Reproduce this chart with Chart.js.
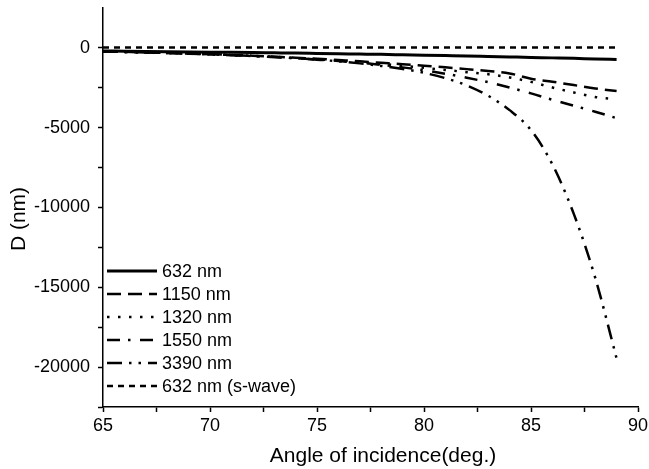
<!DOCTYPE html>
<html>
<head>
<meta charset="utf-8">
<script src="https://cdn.jsdelivr.net/npm/chart.js@4"></script>
<style>
  html, body { margin: 0; padding: 0; background: #fff; }
  #wrap { width: 649px; height: 469px; }
</style>
</head>
<body>
<div id="wrap"><canvas id="chart"></canvas></div>
<script>
// data
const angles = [65, 66, 67, 68, 69, 70, 71, 72, 73, 74, 75, 76, 77, 78, 79, 80, 81, 82, 83, 84, 85, 86, 87, 88, 89];
const d632 = [-190, -205, -220, -235, -250, -265, -280, -295, -310, -325, -345, -365, -385, -405, -430, -455, -480, -505, -535, -565, -595, -625, -655, -690, -720];
const d1150 = [-215, -245, -280, -315, -355, -395, -440, -490, -550, -610, -680, -760, -840, -930, -1020, -1120, -1220, -1330, -1450, -1600, -1930, -2120, -2330, -2540, -2700];
const d1320 = [-220, -250, -285, -320, -360, -400, -445, -500, -560, -630, -710, -800, -900, -1000, -1120, -1250, -1380, -1520, -1650, -1850, -2130, -2480, -2790, -3080, -3220];
const d1550 = [-220, -250, -285, -320, -360, -405, -450, -505, -570, -640, -720, -820, -930, -1060, -1220, -1400, -1620, -1870, -2150, -2480, -2850, -3250, -3620, -4000, -4400];
const d3390 = [-220, -250, -285, -320, -360, -405, -455, -510, -575, -650, -740, -840, -970, -1130, -1320, -1560, -1900, -2350, -3000, -3900, -5150, -7300, -10400, -14400, -19450];
const dS = [30, 30, 30, 30, 30, 30, 30, 30, 30, 30, 30, 30, 30, 30, 30, 30, 30, 30, 30, 30, 30, 30, 30, 30, 30];

const seriesNames = ['632 nm', '1150 nm', '1320 nm', '1550 nm', '3390 nm', '632 nm (s-wave)'];
const xTicks = [65, 67.5, 70, 72.5, 75, 77.5, 80, 82.5, 85, 87.5, 90];
const yTicks = [-22500, -20000, -17500, -15000, -12500, -10000, -7500, -5000, -2500, 0];
const xTitle = 'Angle of incidence(deg.)';
const yTitle = 'D (nm)';

const FONT = 'Arial, "Liberation Sans", sans-serif';

function pts(arr) {
    return angles.map((a, i) => ({ x: a, y: arr[i] }));
}

const styles = [
    { w: 3, dash: [] },
    { w: 2.5, dash: [14, 7] },
    { w: 2.5, dash: [2.5, 8.5] },
    { w: 2.5, dash: [13, 8, 2.5, 9.5] },
    { w: 2.5, dash: [15, 7, 2.5, 7, 2.5, 7] },
    { w: 2.5, dash: [6, 5] }
];
const allData = [d632, d1150, d1320, d1550, d3390, dS];

const datasets = allData.map((arr, i) => ({
    label: seriesNames[i],
    data: pts(arr),
    borderColor: '#000',
    borderWidth: styles[i].w,
    borderDash: styles[i].dash,
    pointRadius: 0,
    fill: false,
    cubicInterpolationMode: 'monotone'
}));

// legend inside the plot (lower left) + axis titles where the original puts them
const extras = {
    id: 'extras',
    afterDatasetsDraw(chart) {
        const ctx = chart.ctx;
        ctx.save();
        ctx.font = '18px ' + FONT;
        ctx.textBaseline = 'middle';
        ctx.fillStyle = '#000';
        ctx.strokeStyle = '#000';
        chart.data.datasets.forEach((ds, i) => {
            const y = 271 + i * 23;
            ctx.lineWidth = ds.borderWidth;
            ctx.setLineDash(ds.borderDash);
            ctx.beginPath();
            ctx.moveTo(107, y);
            ctx.lineTo(157, y);
            ctx.stroke();
            ctx.setLineDash([]);
            ctx.fillText(ds.label, 162, y + 1);
        });

        ctx.font = '21px ' + FONT;
        ctx.textAlign = 'center';
        ctx.fillText(xTitle, 383, 456);
        ctx.translate(19, 219);
        ctx.rotate(-Math.PI / 2);
        ctx.fillText(yTitle, 0, 0);
        ctx.restore();
    }
};

new Chart(document.getElementById('chart'), {
    type: 'line',
    data: { datasets: datasets },
    options: {
        responsive: true,
        maintainAspectRatio: false,
        animation: false,
        layout: { padding: { left: 0, right: 11, top: 8, bottom: 0 } },
        plugins: { legend: { display: false }, tooltip: { enabled: false } },
        scales: {
            x: {
                type: 'linear',
                min: 65, max: 90,
                afterBuildTicks: s => { s.ticks = xTicks.map(v => ({ value: v })); },
                afterFit: s => { s.height = 62; s.paddingLeft = 0; s.paddingRight = 0; },
                ticks: {
                    autoSkip: false, maxRotation: 0,
                    padding: 3,
                    color: '#000',
                    font: { family: FONT, size: 18 },
                    callback: v => (v % 5 === 0 ? String(v) : '')
                },
                grid: { display: true, drawOnChartArea: false, drawTicks: true, tickLength: 5, tickColor: '#000', tickWidth: 1.5 },
                border: { display: true, color: '#000', width: 1.5 }
            },
            y: {
                type: 'linear',
                min: -22500, max: 2500,
                afterBuildTicks: s => { s.ticks = yTicks.map(v => ({ value: v })); },
                afterFit: s => { s.width = 103; s.paddingTop = 0; s.paddingBottom = 0; },
                ticks: {
                    autoSkip: false,
                    padding: 8,
                    color: '#000',
                    font: { family: FONT, size: 18 },
                    callback: v => (v % 5000 === 0 ? String(v) : '')
                },
                grid: { display: true, drawOnChartArea: false, drawTicks: true, tickLength: 5, tickColor: '#000', tickWidth: 1.5 },
                border: { display: true, color: '#000', width: 1.5 }
            }
        }
    },
    plugins: [extras]
});
</script>
</body>
</html>
